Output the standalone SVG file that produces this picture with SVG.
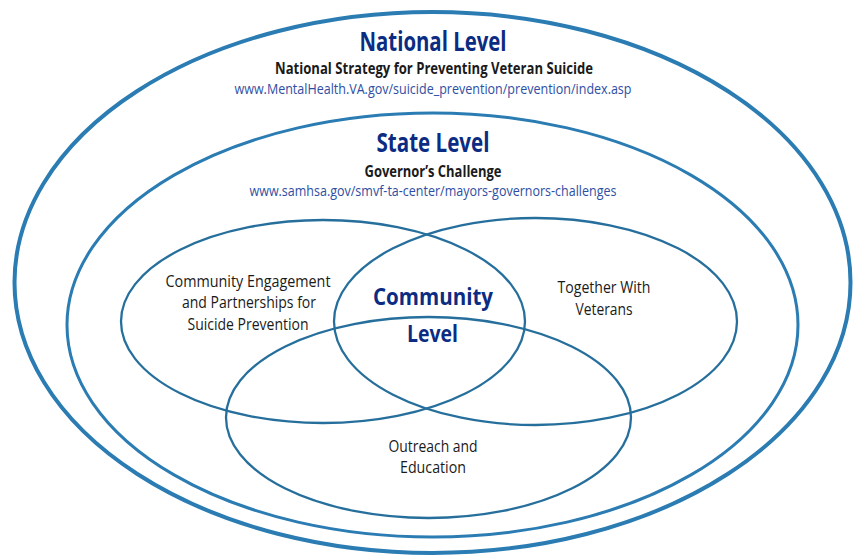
<svg xmlns="http://www.w3.org/2000/svg" width="865" height="556" viewBox="0 0 865 556">
<style>
text{font-family:"Open Sans","Liberation Sans",sans-serif;text-anchor:middle}
.ttl{font-weight:bold;fill:#0b2c82;font-size:26px}
.sub{font-weight:bold;fill:#1a1a1a;font-size:15.5px}
.url{fill:#2e4ea3;font-size:14.5px}
.lbl{fill:#1a1a1a;font-size:16px}
.ring{fill:none;stroke:#2a7cb3}
.venn{fill:none;stroke:#266f9c;stroke-width:2.3}
</style>
<rect width="865" height="556" fill="#ffffff"/>
<g id="national">
<ellipse class="ring" cx="432.5" cy="282.5" rx="418" ry="270.5" stroke-width="4"/>
<text class="ttl" x="433" y="51" textLength="147" lengthAdjust="spacingAndGlyphs">National Level</text>
<text class="sub" x="434" y="74" textLength="318" lengthAdjust="spacingAndGlyphs">National Strategy for Preventing Veteran Suicide</text>
<text class="url" x="433" y="94" textLength="397" lengthAdjust="spacingAndGlyphs">www.MentalHealth.VA.gov/suicide_prevention/prevention/index.asp</text>
</g>
<g id="state">
<ellipse class="ring" cx="432.5" cy="325" rx="365.5" ry="212" stroke-width="3"/>
<text class="ttl" x="433" y="152" textLength="113" lengthAdjust="spacingAndGlyphs">State Level</text>
<text class="sub" x="433" y="177" textLength="137" lengthAdjust="spacingAndGlyphs">Governor’s Challenge</text>
<text class="url" x="433" y="196" textLength="367" lengthAdjust="spacingAndGlyphs">www.samhsa.gov/smvf-ta-center/mayors-governors-challenges</text>
</g>
<g id="community-engagement">
<ellipse class="venn" cx="323" cy="321.5" rx="202" ry="101.5"/>
<text class="lbl" x="248" y="287" textLength="165" lengthAdjust="spacingAndGlyphs">Community Engagement</text>
<text class="lbl" x="249" y="308" textLength="134" lengthAdjust="spacingAndGlyphs">and Partnerships for</text>
<text class="lbl" x="248" y="330" textLength="121" lengthAdjust="spacingAndGlyphs">Suicide Prevention</text>
</g>
<g id="together-with-veterans">
<ellipse class="venn" cx="535.5" cy="321.5" rx="201.5" ry="103.5"/>
<text class="lbl" x="604" y="293" textLength="93" lengthAdjust="spacingAndGlyphs">Together With</text>
<text class="lbl" x="604" y="315" textLength="57" lengthAdjust="spacingAndGlyphs">Veterans</text>
</g>
<g id="outreach-education">
<ellipse class="venn" cx="428.5" cy="417.5" rx="202.5" ry="100.5"/>
<text class="lbl" x="433" y="452" textLength="89" lengthAdjust="spacingAndGlyphs">Outreach and</text>
<text class="lbl" x="433" y="473" textLength="66" lengthAdjust="spacingAndGlyphs">Education</text>
</g>
<g id="community-level">
<text class="ttl" x="433" y="305" style="font-size:24px" textLength="120" lengthAdjust="spacingAndGlyphs">Community</text>
<text class="ttl" x="432.5" y="342" style="font-size:24px" textLength="51" lengthAdjust="spacingAndGlyphs">Level</text>
</g>
<g id="connectors"></g>
</svg>
